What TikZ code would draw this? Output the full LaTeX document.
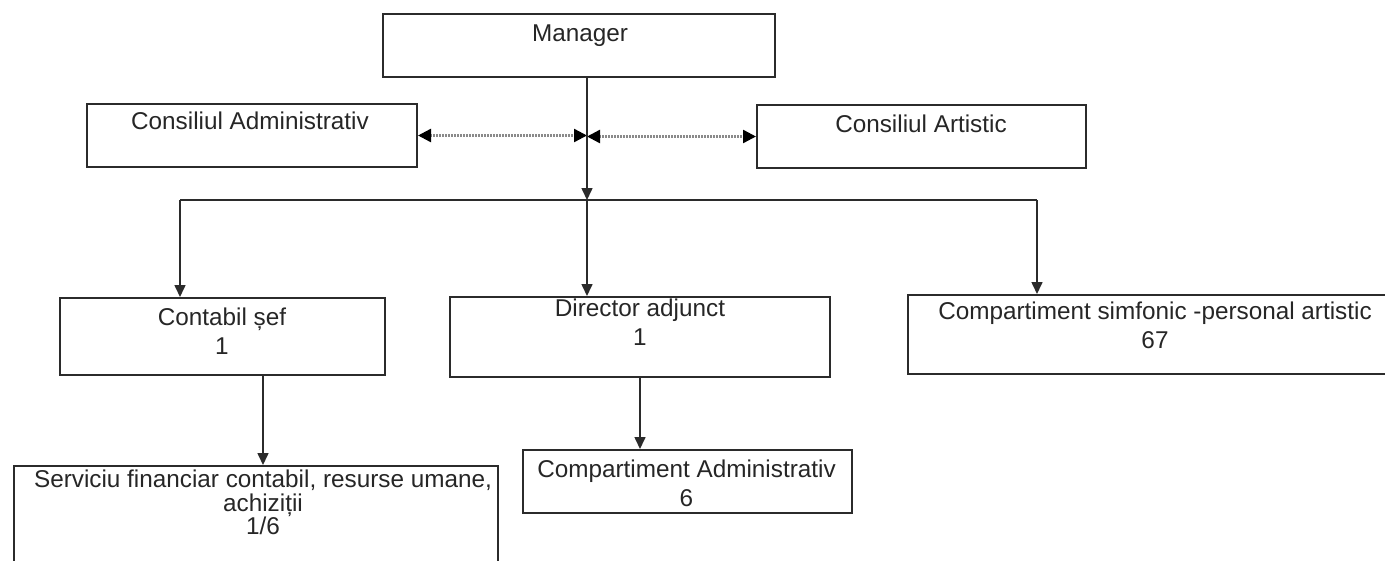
\documentclass[tikz,border=0pt]{standalone}
\usepackage{fontspec}
\setmainfont{Liberation Sans}
\usetikzlibrary{arrows.meta}
\definecolor{ink}{HTML}{2B2B2B}
\definecolor{dotc}{HTML}{8A8A8A}
\begin{document}
\begin{tikzpicture}[x=1pt,y=-1pt,
  box/.style={draw=ink, line width=2pt, rectangle, inner sep=0pt, anchor=north west},
  lbl/.style={inner sep=0pt, anchor=north, align=center, text=black!85,
    font=\fontsize{24.3}{28.5}\selectfont},
  conn/.style={draw=ink, line width=1.6pt},
  tip/.style={-{Triangle[length=12pt,width=11pt]}},
  dotarrow/.style={draw=dotc, line width=2.4pt, dash pattern=on 1.5pt off 1.5pt,
    {Triangle[length=13pt,width=13pt,fill=black,color=black]}-{Triangle[length=13pt,width=13pt,fill=black,color=black]}}
]
\useasboundingbox (0,0) rectangle (1385,560);

% boxes
\node[box, minimum width=392pt, minimum height=63pt] (mgr) at (382,13) {};
\node[box, minimum width=330pt, minimum height=63pt] (cadm) at (86,103) {};
\node[box, minimum width=329pt, minimum height=63pt] (cart) at (756,104) {};
\node[box, minimum width=325pt, minimum height=77pt] (cs) at (59,297) {};
\node[box, minimum width=380pt, minimum height=80pt] (dir) at (449,296) {};
\node[box, minimum width=496pt, minimum height=79pt] (sim) at (907,294) {};
\node[box, minimum width=484pt, minimum height=110pt] (srv) at (13,465) {};
\node[box, minimum width=329pt, minimum height=63pt] (cadm2) at (522,449) {};

% labels
\node[lbl] (tmgr) at (580,25) {Manager};
\node[lbl] (tcadm) at (250,112) {Consiliul Administrativ};
\node[lbl] (tcart) at (921,115) {Consiliul Artistic};
\node[lbl] (tcs) at (222,308) {Contabil șef\\1};
\node[lbl] (tdir) at (640,299) {Director adjunct\\1};
\node[lbl] (tsim) at (1155,302) {Compartiment simfonic -personal artistic\\67};
\node[lbl, font=\fontsize{24.3}{23.5}\selectfont] (tsrv) at (263,470) {Serviciu financiar contabil, resurse umane,\\achiziții\\1/6};
\node[lbl] (tcadm2) at (686.5,460) {Compartiment Administrativ\\6};

% connectors
\coordinate (busL) at (180,200);
\coordinate (busM) at (587,200);
\coordinate (busR) at (1037,200);
\coordinate (hub) at (587,135);
\coordinate (cso) at (263,374);

\draw[dotarrow] (cadm.east) -- (cadm.east -| hub);
\draw[dotarrow] (cart.west -| hub) -- (cart.west);

\draw[conn, tip] (mgr.south -| busM) -- (busM);
\draw[conn] (busL) -- (busR);
\draw[conn, tip] (busL) -- (busL |- cs.north);
\draw[conn, tip] (busM) -- (busM |- dir.north);
\draw[conn, tip] (busR) -- (busR |- sim.north);
\draw[conn, tip] (cso) -- (cso |- srv.north);
\draw[conn, tip] (dir.south -| tdir) -- (tdir |- cadm2.north);
\end{tikzpicture}
\end{document}
